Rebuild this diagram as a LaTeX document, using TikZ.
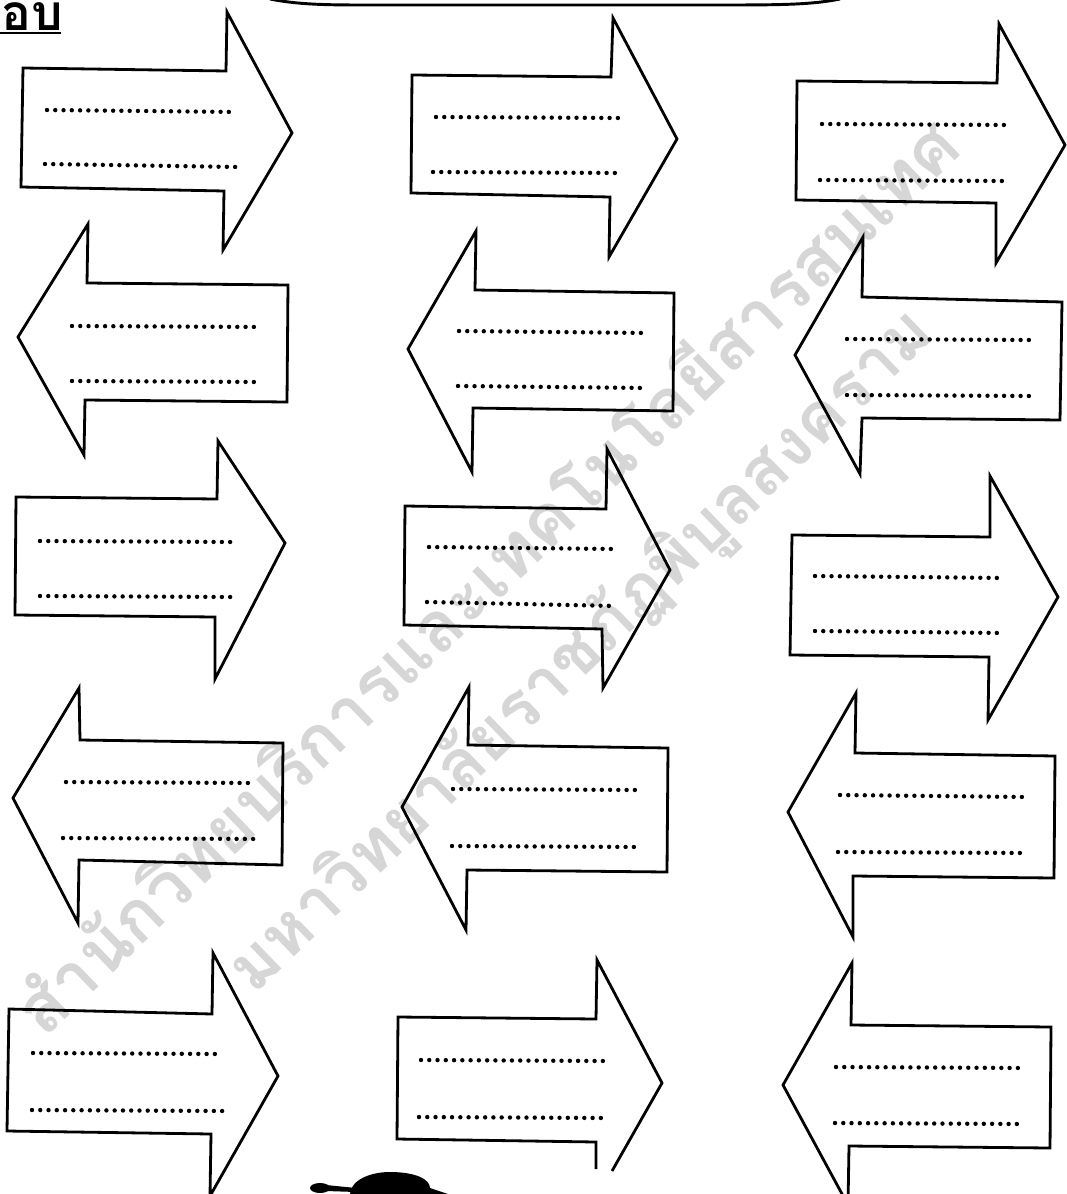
\documentclass[tikz,border=0pt]{standalone}
\usepackage{fontspec}
\usepackage{graphicx}
\newfontfamily\thaifont[Script=Thai]{Loma}
\tikzset{
  arrowshape/.style={draw=black, line width=2.1pt, line join=miter},
  dotline/.style={draw=black, line width=3.3pt, line cap=round, dash pattern=on 0pt off 6.2pt},
  wmark/.style={text=black!16, inner sep=0pt, rotate=44, anchor=center},
}
\begin{document}
\begin{tikzpicture}[x=0.75pt,y=-0.75pt]
\fill[white] (0,0) rectangle (1066,1194);
\useasboundingbox (0,0) rectangle (1066,1194);

% watermark
\node[wmark] (wm1) at (484,574) {\resizebox{958pt}{!}{\thaifont\bfseries สำนักวิทยบริการและเทคโนโลยีสารสนเทศ}};
\node[wmark] (wm2) at (582,652) {\resizebox{712pt}{!}{\thaifont\bfseries มหาวิทยาลัยราชภัฏพิบูลสงคราม}};

% header
\node[anchor=north west, inner sep=0pt] (title) at (1,2) {\resizebox{46pt}{!}{\thaifont\bfseries อบ}};
\draw[line width=1.6pt] (0,33) -- (61,33);
\draw[line width=2.2pt] (270,-1) .. controls (295,4) and (320,5) .. (360,5) -- (730,5) .. controls (790,5) and (815,4) .. (840,-1);

% row 1 (right)
\draw[arrowshape] (23,68) -- (226,71) -- (227,12) -- (292,133) -- (223,250) -- (224,191) -- (21,187) -- cycle;
\draw[arrowshape] (412,75) -- (611,77) -- (613,18) -- (677,139) -- (609,257) -- (610,197) -- (411,193) -- cycle;
\draw[arrowshape] (797,81) -- (997,83) -- (999,24) -- (1065,145) -- (996,263) -- (996,203) -- (796,200) -- cycle;
% row 2 (left)
\draw[arrowshape] (88,224) -- (87,283) -- (288,285) -- (287,402) -- (85,400) -- (84,455) -- (18,337) -- cycle;
\draw[arrowshape] (476,231) -- (475,290) -- (674,293) -- (673,411) -- (473,408) -- (472,472) -- (408,349) -- cycle;
\draw[arrowshape] (863,237) -- (862,297) -- (1062,302) -- (1060,420) -- (862,418) -- (860,474) -- (795,355) -- cycle;
% row 3 (right)
\draw[arrowshape] (16,497) -- (217,499) -- (218,441) -- (285,543) -- (215,679) -- (215,617) -- (15,615) -- cycle;
\draw[arrowshape] (405,506) -- (606,509) -- (607,449) -- (670,570) -- (603,688) -- (602,629) -- (404,625) -- cycle;
\draw[arrowshape] (792,535) -- (990,537) -- (990,476) -- (1058,597) -- (988,720) -- (989,657) -- (790,655) -- cycle;
% row 4 (left)
\draw[arrowshape] (79,688) -- (80,740) -- (283,743) -- (282,865) -- (79,860) -- (78,923) -- (13,798) -- cycle;
\draw[arrowshape] (469,687) -- (468,745) -- (668,748) -- (667,872) -- (467,870) -- (466,930) -- (402,807) -- cycle;
\draw[arrowshape] (856,693) -- (855,753) -- (1055,756) -- (1054,878) -- (853,876) -- (853,937) -- (788,812) -- cycle;
% row 5
\draw[arrowshape] (9,1009) -- (212,1014) -- (213,953) -- (278,1076) -- (210,1196) -- (211,1134) -- (7,1131) -- cycle;
\draw[arrowshape] (612,1171) -- (662,1083) -- (597,960) -- (596,1019) -- (398,1017) -- (397,1139) -- (596,1142) -- (596,1169);
\draw[arrowshape] (852,963) -- (851,1025) -- (1051,1027) -- (1050,1148) -- (849,1146) -- (848,1205) -- (783,1085) -- cycle;

% dotted answer lines
\draw[dotline] (47,110) -- (237,112);   \draw[dotline] (45,164) -- (238,167);
\draw[dotline] (436,117) -- (622,118);  \draw[dotline] (433,172) -- (622,173);
\draw[dotline] (822,124) -- (1008,125); \draw[dotline] (820,180) -- (1008,181);
\draw[dotline] (72,326) -- (262,327);   \draw[dotline] (72,381) -- (262,382);
\draw[dotline] (459,331) -- (648,333);  \draw[dotline] (458,386) -- (648,388);
\draw[dotline] (847,339) -- (1032,340); \draw[dotline] (847,395) -- (1033,396);
\draw[dotline] (40,541) -- (232,542);   \draw[dotline] (40,596) -- (232,597);
\draw[dotline] (429,547) -- (616,549);  \draw[dotline] (427,602) -- (616,606);
\draw[dotline] (815,576) -- (1004,578); \draw[dotline] (815,631) -- (1004,633);
\draw[dotline] (66,782) -- (256,783);   \draw[dotline] (63,838) -- (257,839);
\draw[dotline] (453,789) -- (641,790);  \draw[dotline] (452,846) -- (641,847);
\draw[dotline] (840,795) -- (1027,797); \draw[dotline] (838,852) -- (1028,853);
\draw[dotline] (33,1053) -- (223,1054); \draw[dotline] (32,1110) -- (224,1111);
\draw[dotline] (421,1060) -- (608,1061);\draw[dotline] (419,1117) -- (608,1118);
\draw[dotline] (836,1067) -- (1023,1068);\draw[dotline] (835,1123) -- (1024,1124);

% ink blob at bottom
\fill[black] (320,1188) ellipse[x radius=10, y radius=5];
\fill[black] (326,1185) -- (356,1188) -- (356,1192) -- (326,1191) -- cycle;
\fill[black] (350,1194) .. controls (351,1180) and (370,1172) .. (390,1172)
  .. controls (415,1172) and (430,1179) .. (430,1188) -- (448,1194) -- cycle;
\end{tikzpicture}
\end{document}
